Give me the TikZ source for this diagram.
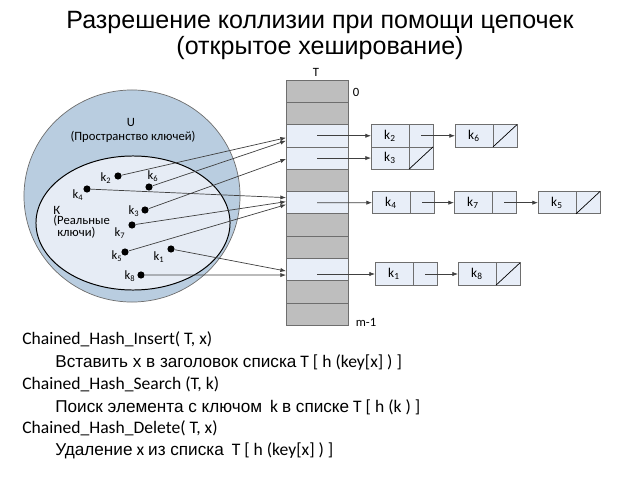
\documentclass[tikz,border=0pt]{standalone}
\usepackage{fontspec}
\setmainfont{Carlito}
\newfontfamily\headfont{Liberation Sans}
\usetikzlibrary{arrows.meta,positioning,calc}
\definecolor{ufill}{HTML}{B9CDE0}
\definecolor{kfill}{HTML}{E6ECF5}
\definecolor{cellgray}{HTML}{BEBEBE}
\definecolor{celllight}{HTML}{E8EEF8}
\definecolor{edgegray}{HTML}{6E6E6E}
\newcommand{\ru}[1]{{\headfont\fontsize{12.2}{14}\selectfont #1}}

\begin{document}
\begin{tikzpicture}[x=0.025cm,y=-0.025cm,line width=0.5pt,
    cell/.style={draw=edgegray,minimum width=1.55cm,minimum height=0.5575cm,inner sep=0,outer sep=0},
    keybox/.style={draw=edgegray,fill=celllight,minimum width=0.95cm,minimum height=0.5575cm,
        inner sep=0,outer sep=0,font=\fontsize{9.5}{11}\selectfont},
    ptrbox/.style={draw=edgegray,fill=celllight,minimum width=0.6cm,minimum height=0.5575cm,inner sep=0,outer sep=0},
    keydot/.style={circle,fill=black,minimum size=0.18cm,inner sep=0},
    keylbl/.style={inner sep=0,font=\fontsize{9}{10}\selectfont},
    link/.style={draw=black!75,-{Latex[length=4pt,width=3pt]}},
    headline/.style={inner sep=0,font=\headfont\fontsize{17.8}{20}\selectfont},
    codeline/.style={anchor=west,inner sep=0,font=\fontsize{12.5}{14}\selectfont},
    ]
    \useasboundingbox[fill=white] (0,0) rectangle (640,480);

    % title
    \node[headline] (title1) at (320,22) {Разрешение коллизии при помощи цепочек};
    \node[headline] (title2) at (320,48) {(открытое хеширование)};

    % key universe
    \filldraw[fill=ufill,draw=edgegray] (132,196) ellipse [x radius=2.7cm,y radius=2.65cm];
    \filldraw[fill=kfill,draw=black,line width=0.7pt] (133,223) ellipse [x radius=2.425cm,y radius=1.675cm];
    \node[keylbl] (ulbl) at (131,122) {U};
    \node[keylbl] (utxt) at (133,137) {(Пространство ключей)};
    \node[keylbl,anchor=west] (ktxt1) at (53,210) {К};
    \node[keylbl,anchor=west] (ktxt2) at (53,221) {(Реальные};
    \node[keylbl,anchor=west] (ktxt3) at (57,233) {ключи)};

    % table T
    \foreach \i/\f in {0/cellgray,1/cellgray,2/celllight,3/celllight,4/cellgray,5/celllight,
                       6/cellgray,7/cellgray,8/celllight,9/cellgray,10/cellgray}
        \node[cell,fill=\f] (t\i) at (317,{80+22.3*(\i+0.5)}) {};
    \node[keylbl] (tname) at (316,72) {T};
    \node[keylbl] (tfirst) at (356,92) {0};
    \node[keylbl] (tlast) at (366,322) {m-1};

    % chains
    \node[keybox] (k2) at (390,135.75) {k\textsubscript{2}};
    \node[ptrbox,right=0pt of k2] (k2p) {};
    \node[keybox] (k6) at (474,135.75) {k\textsubscript{6}};
    \node[ptrbox,right=0pt of k6] (k6p) {};
    \node[keybox] (k3) at (390,158.05) {k\textsubscript{3}};
    \node[ptrbox,right=0pt of k3] (k3p) {};
    \node[keybox] (k4) at (391,202.65) {k\textsubscript{4}};
    \node[ptrbox,right=0pt of k4] (k4p) {};
    \node[keybox] (k7) at (473,202.65) {k\textsubscript{7}};
    \node[ptrbox,right=0pt of k7] (k7p) {};
    \node[keybox] (k5) at (557,202.65) {k\textsubscript{5}};
    \node[ptrbox,right=0pt of k5] (k5p) {};
    \node[keybox] (k1) at (394,274) {k\textsubscript{1}};
    \node[ptrbox,right=0pt of k1] (k1p) {};
    \node[keybox] (k8) at (477,274) {k\textsubscript{8}};
    \node[ptrbox,right=0pt of k8] (k8p) {};
    \foreach \n in {k6p,k3p,k5p,k8p}
        \draw (\n.south west) -- (\n.north east);

    \draw[link] (t2.center) -- (k2.west);
    \draw[link] (k2p.center) -- (k6.west);
    \draw[link] (t3.center) -- (k3.west);
    \draw[link] (t5.center) -- (k4.west);
    \draw[link] (k4p.center) -- (k7.west);
    \draw[link] (k7p.center) -- (k5.west);
    \draw[link] ($(t8.center)+(0,4.45)$) -- (k1.west);
    \draw[link] (k1p.center) -- (k8.west);

    % keys
    \node[keydot] (p2) at (118,176) {};
    \node[keydot] (p6) at (149,187) {};
    \node[keydot] (p4) at (87,189) {};
    \node[keydot] (p3) at (145,210) {};
    \node[keydot] (p7) at (132,225) {};
    \node[keydot] (p5) at (125,252) {};
    \node[keydot] (p1) at (171,249) {};
    \node[keydot] (p8) at (141,275) {};
    \node[keylbl] (l2) at (106,178) {k\textsubscript{2}};
    \node[keylbl] (l6) at (153,176) {k\textsubscript{6}};
    \node[keylbl] (l4) at (78,195) {k\textsubscript{4}};
    \node[keylbl] (l3) at (134,211) {k\textsubscript{3}};
    \node[keylbl] (l7) at (120,233) {k\textsubscript{7}};
    \node[keylbl] (l5) at (117,256) {k\textsubscript{5}};
    \node[keylbl] (l1) at (159,257) {k\textsubscript{1}};
    \node[keylbl] (l8) at (130,276) {k\textsubscript{8}};

    \draw[link] (p2) -- ($(t2.west)+(0,2)$);
    \draw[link] (p6) -- ($(t2.west)+(0,5)$);
    \draw[link] (p3) -- ($(t3.west)+(0,1)$);
    \draw[link] (p4) -- ($(t5.west)+(0,-5)$);
    \draw[link] (p7) -- ($(t5.west)+(0,-1)$);
    \draw[link] (p5) -- ($(t5.west)+(0,2)$);
    \draw[link] (p1) -- ($(t8.west)+(0,1.5)$);
    \draw[link] (p8) -- ($(t8.west)+(0,5.5)$);

    % operations
    \node[codeline] (ins) at (22,339) {Chained\_Hash\_Insert( T, x)};
    \node[codeline] (insd) at (55,362) {\ru{Вставить x в заголовок списка} T [ h (key[x] ) ]};
    \node[codeline] (srch) at (22,384) {Chained\_Hash\_Search (T, k)};
    \node[codeline] (srchd) at (55,407) {\ru{Поиск элемента с ключом} \ k \ru{в списке} T [ h (k ) ]};
    \node[codeline] (del) at (22,428) {Chained\_Hash\_Delete( T, x)};
    \node[codeline] (deld) at (55,451) {\ru{Удаление} x \ru{из списка} \ T [ h (key[x] ) ]};
\end{tikzpicture}
\end{document}
